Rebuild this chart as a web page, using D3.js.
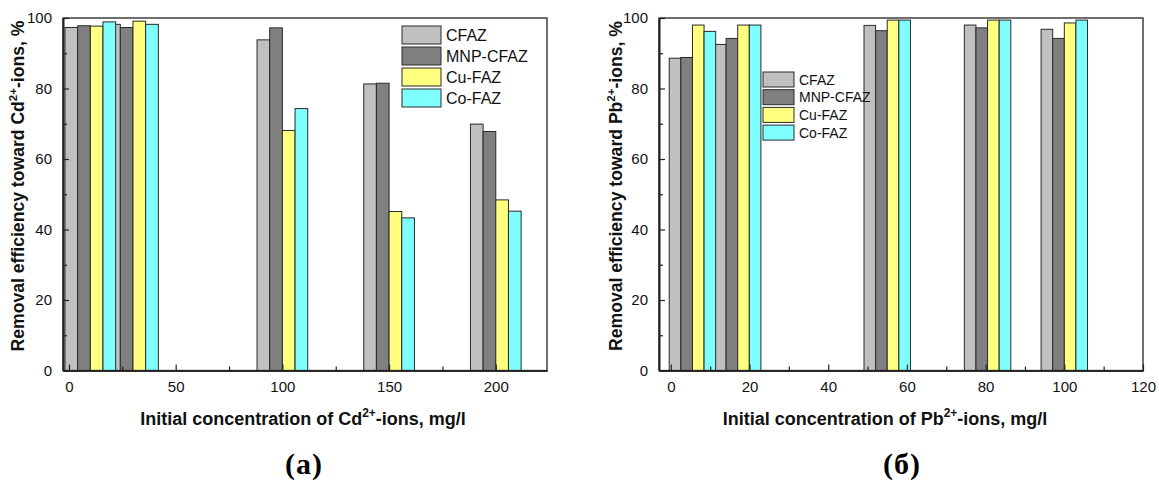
<!DOCTYPE html>
<html>
<head>
<meta charset="utf-8">
<script src="https://cdnjs.cloudflare.com/ajax/libs/d3/7.8.5/d3.min.js"></script>
<style>
	body { margin: 0; background: #fff; }
	svg { display: block; font-family: Arial, "Liberation Sans", sans-serif; }
</style>
</head>
<body>
<svg id="chart" width="1159" height="486"></svg>
<script>
var seriesNames = ['CFAZ', 'MNP-CFAZ', 'Cu-FAZ', 'Co-FAZ'];
var seriesColors = ['#c0c0c0', '#808080', '#ffff80', '#80ffff'];

// (a) Cd
var cdConc = [10, 30, 100, 150, 200];
var cdCFAZ = [97.3, 98.2, 93.8, 81.3, 69.9];
var cdMNP = [97.8, 97.3, 97.2, 81.5, 67.8];
var cdCu = [97.7, 99.1, 68.1, 45.1, 48.4];
var cdCo = [98.9, 98.2, 74.3, 43.3, 45.2];
var cdTicks = [0, 50, 100, 150, 200];

// (б) Pb
var pbConc = [5.5, 17, 55, 80.5, 100];
var pbCFAZ = [88.6, 92.5, 97.9, 98.0, 96.8];
var pbMNP = [88.8, 94.2, 96.4, 97.2, 94.2];
var pbCu = [98.0, 98.0, 99.4, 99.4, 98.6];
var pbCo = [96.2, 98.0, 99.4, 99.4, 99.4];
var pbTicks = [0, 20, 40, 60, 80, 100, 120];

var yTicks = [0, 20, 40, 60, 80, 100];

var svg = d3.select('#chart');

var panel = {
	draw : function(o){
		var g = svg.append('g');
		var x = d3.scaleLinear().domain(o.xDomain).range([o.left, o.right]);
		var y = d3.scaleLinear().domain([0, 100]).range([o.bottom, o.top]);

		// bars, one series at a time so later series cover earlier ones
		o.series.forEach(function(vals, s){
			g.append('g').selectAll('rect')
				.data(vals)
				.enter()
				.append('rect')
				.attr('x', function(d, i){ return x(o.conc[i] + (s - 2) * o.barW); })
				.attr('width', function(d, i){ return x(o.conc[i] + (s - 1) * o.barW) - x(o.conc[i] + (s - 2) * o.barW); })
				.attr('y', function(d){ return y(d); })
				.attr('height', function(d){ return y(0) - y(d); })
				.attr('fill', seriesColors[s])
				.attr('stroke', '#2a2a2a')
				.attr('stroke-width', 1);
		});

		// frame
		g.append('rect')
			.attr('x', o.left).attr('y', o.top)
			.attr('width', o.right - o.left).attr('height', o.bottom - o.top)
			.attr('fill', 'none').attr('stroke', '#222').attr('stroke-width', 1.3);

		// x axis: major + minor ticks inside
		var xMinor = [];
		for(var i = 0; i < o.xTicks.length - 1; i++){
			xMinor.push((o.xTicks[i] + o.xTicks[i+1]) / 2);
		}
		g.append('g').attr('transform', 'translate(0,' + o.bottom + ')')
			.call(d3.axisBottom(x).tickValues(o.xTicks).tickSizeInner(-6).tickSizeOuter(0).tickPadding(11));
		g.append('g').attr('transform', 'translate(0,' + o.bottom + ')')
			.call(d3.axisBottom(x).tickValues(xMinor).tickSizeInner(-4).tickSizeOuter(0).tickFormat(''));

		g.append('g').attr('transform', 'translate(' + o.left + ',0)')
			.call(d3.axisLeft(y).tickValues(yTicks).tickSizeInner(-6).tickSizeOuter(0).tickPadding(11));
		g.append('g').attr('transform', 'translate(' + o.left + ',0)')
			.call(d3.axisLeft(y).tickValues([10, 30, 50, 70, 90]).tickSizeInner(-4).tickSizeOuter(0).tickFormat(''));

		g.selectAll('.domain').attr('stroke', '#222').attr('stroke-width', 1.6);
		g.selectAll('.tick line').attr('stroke', '#222').attr('stroke-width', 1.2);
		g.selectAll('.tick text').attr('font-size', 15).attr('fill', '#111').attr('font-family', 'Arial, "Liberation Sans", sans-serif');

		// axis titles
		var xt = g.append('text')
			.attr('x', o.xTitleX).attr('y', 425)
			.attr('text-anchor', 'middle')
			.attr('font-size', 18).attr('font-weight', 'bold').attr('fill', '#111');
		xt.append('tspan').text('Initial concentration of ' + o.ion);
		xt.append('tspan').attr('dy', -8).attr('font-size', 12).text('2+');
		xt.append('tspan').attr('dy', 8).text('-ions, mg/l');

		var yt = g.append('text')
			.attr('transform', 'translate(' + o.yTitleX + ',186) rotate(-90)')
			.attr('text-anchor', 'middle')
			.attr('font-size', 17.6).attr('font-weight', 'bold').attr('fill', '#111');
		yt.append('tspan').text('Removal efficiency toward ' + o.ion);
		yt.append('tspan').attr('dy', -7).attr('font-size', 11.5).text('2+');
		yt.append('tspan').attr('dy', 7).text('-ions, %');

		// legend
		var lg = g.append('g');
		seriesNames.forEach(function(name, s){
			lg.append('rect')
				.attr('x', o.legend.x).attr('y', o.legend.y + s * o.legend.step)
				.attr('width', o.legend.w).attr('height', o.legend.h)
				.attr('fill', seriesColors[s]).attr('stroke', '#2a2a2a').attr('stroke-width', 1);
			lg.append('text')
				.attr('x', o.legend.x + o.legend.w + 5)
				.attr('y', o.legend.y + s * o.legend.step + o.legend.h / 2)
				.attr('dy', '0.36em')
				.attr('font-size', o.legend.fs).attr('fill', '#111')
				.text(name);
		});

		// caption
		var cap = svg.append('text')
			.attr('x', o.capX).attr('y', 474)
			.attr('text-anchor', 'middle')
			.attr('font-family', '"Liberation Serif", "Times New Roman", serif')
			.attr('font-size', 30).attr('font-weight', 'bold').attr('fill', '#000')
			.attr('letter-spacing', 1);
		cap.text('(' + o.caption + ')');
	}
};

panel.draw({
	left : 63, right : 547, top : 18, bottom : 370.5,
	xDomain : [-2.8, 224], xTicks : cdTicks,
	conc : cdConc, series : [cdCFAZ, cdMNP, cdCu, cdCo], barW : 5.94,
	ion : 'Cd', xTitleX : 303, yTitleX : 24,
	legend : { x : 402, y : 26, w : 39, h : 18, step : 21, fs : 16 },
	caption : 'a', capX : 304
});

panel.draw({
	left : 659, right : 1143, top : 18, bottom : 370.5,
	xDomain : [-3, 120], xTicks : pbTicks,
	conc : pbConc, series : [pbCFAZ, pbMNP, pbCu, pbCo], barW : 2.95,
	ion : 'Pb', xTitleX : 885, yTitleX : 622,
	legend : { x : 763, y : 72, w : 31, h : 15, step : 17.7, fs : 14 },
	caption : 'б', capX : 902
});
</script>
</body>
</html>
